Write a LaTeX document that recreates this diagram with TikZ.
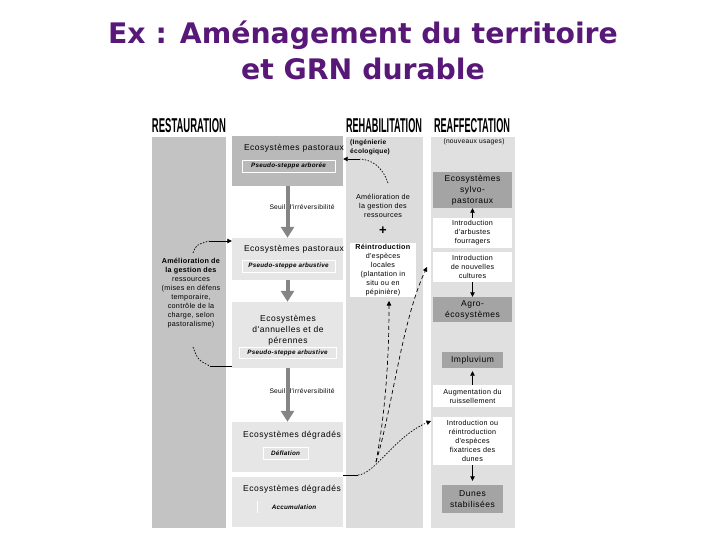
\documentclass[tikz,border=0pt]{standalone}
\usepackage{fontspec}
\setmainfont{Liberation Sans}
\newfontfamily\titlefont{DejaVu Sans}
\newfontfamily\spfont[LetterSpace=6]{Liberation Sans}
\newfontfamily\smfont[LetterSpace=4]{Liberation Sans}
\usetikzlibrary{arrows.meta}
\definecolor{ttlcol}{RGB}{88,24,120}
\definecolor{colrest}{RGB}{195,195,195}
\definecolor{colreh}{RGB}{220,220,220}
\definecolor{colrea}{RGB}{224,224,224}
\definecolor{boxdark}{RGB}{185,185,185}
\definecolor{boxlight}{RGB}{230,230,230}
\definecolor{boxgrey}{RGB}{164,164,164}
\definecolor{arrgrey}{RGB}{133,133,133}
\begin{document}
\begin{tikzpicture}[x=1pt,y=-1pt,
  colbox/.style={draw=none,inner sep=0,minimum width=#1},
  hdr/.style={inner sep=0,font=\bfseries},
  txt/.style={inner sep=0,align=center,font=\smfont\fontsize{7.2}{9}\selectfont},
  ttl/.style={inner sep=0,align=center,font=\spfont\fontsize{8.5}{11}\selectfont},
  inbox/.style={draw=white,line width=0.8pt,inner sep=0,font=\smfont\bfseries\itshape\fontsize{6.3}{8}\selectfont},
  ebox/.style={inner sep=0,draw=none},
  bigarrow/.style={draw=arrgrey,line width=4pt,-{Triangle[width=13pt,length=11pt]}},
  tip/.style={-{Triangle[width=4.5pt,length=4.5pt]},line width=0.8pt},
  dots/.style={line width=0.7pt,dash pattern=on 1.5pt off 1.5pt},
  dash2/.style={line width=0.7pt,dash pattern=on 4pt off 3pt}]
\useasboundingbox (0,0) rectangle (720,540);

% Title
\node[inner sep=0,align=center,text=ttlcol,font=\titlefont\bfseries\fontsize{28.3}{36}\selectfont] (title) at (363,50) {Ex : Aménagement du territoire\\et GRN durable};

% Columns
\node[colbox=74,minimum height=391,fill=colrest] (colR) at (189,332.5) {};
\node[colbox=77,minimum height=391,fill=colreh] (colH) at (384.5,332.5) {};
\node[colbox=84,minimum height=391,fill=colrea] (colF) at (473,332.5) {};

% Headers
\node[hdr] (hRest) at (189,125.5) {\resizebox{74pt}{14pt}{RESTAURATION}};
\node[hdr] (hReh) at (384,125.5) {\resizebox{76pt}{14pt}{REHABILITATION}};
\node[hdr] (hRea) at (472,125.5) {\resizebox{76pt}{14pt}{REAFFECTATION}};

% Middle stack
\node[ebox,fill=boxdark,minimum width=111,minimum height=50] (b1) at (287.5,161) {};
\node[ttl] (b1t) at (294,148) {Ecosystèmes pastoraux};
\node[inbox,minimum width=93,minimum height=12] (b1i) at (288.5,166) {Pseudo-steppe arborée};

\node[txt,font=\smfont\fontsize{6.7}{8}\selectfont] (s1) at (302,207) {Seuil d'irréversibilité};

\node[ebox,fill=boxlight,minimum width=111,minimum height=42] (b2) at (287.5,259) {};
\node[ttl] (b2t) at (294,249) {Ecosystèmes pastoraux};
\node[inbox,minimum width=93,minimum height=12] (b2i) at (288.5,266) {Pseudo-steppe arbustive};

\node[ebox,fill=boxlight,minimum width=111,minimum height=66] (b3) at (287.5,335) {};
\node[ttl] (b3t) at (288,330) {Ecosystèmes\\d'annuelles et de\\pérennes};
\node[inbox,minimum width=97,minimum height=11] (b3i) at (287.5,352.5) {Pseudo-steppe arbustive};

\node[txt,font=\smfont\fontsize{6.7}{8}\selectfont] (s2) at (302,391) {Seuil d'irréversibilité};

\node[ebox,fill=boxlight,minimum width=111,minimum height=50] (b4) at (287.5,447) {};
\node[ttl] (b4t) at (292,435) {Ecosystèmes dégradés};
\node[inbox,minimum width=45,minimum height=12] (b4i) at (285.5,453) {Déflation};

\node[ebox,fill=boxlight,minimum width=111,minimum height=50] (b5) at (287.5,502) {};
\node[ttl] (b5t) at (292,489) {Ecosystèmes dégradés};
\node[inner sep=0,font=\smfont\bfseries\itshape\fontsize{6.3}{8}\selectfont,minimum width=72,minimum height=12] (b5i) at (294,507) {Accumulation};
\draw[white,line width=0.8pt] (b5i.north west) -- (b5i.south west);

\draw[bigarrow] (b1.south) -- (b2.north);
\draw[bigarrow] (b2.south) -- (b3.north);
\draw[bigarrow] (b3.south) -- (b4.north);

% Left column text
\node[txt] (lt) at (191,293.5) {\textbf{Amélioration de}\\\textbf{la gestion des}\\ressources\\(mises en défens\\temporaire,\\contrôle de la\\charge, selon\\pastoralisme)};
\coordinate (l1) at (193,253);
\coordinate (l2) at (209,241);
\coordinate (l3) at (193,347);
\coordinate (l4) at (210,366);
\draw[dots] (l1) .. controls (196,245) .. (l2);
\draw[tip] (l2) -- (b2.west |- l2);
\draw[dots] (l3) .. controls (198,360) .. (l4);
\draw[line width=0.8pt] (l4) -- (b3.west |- l4);

% Rehabilitation column
\node[txt,align=left,anchor=west,font=\smfont\bfseries\fontsize{6.6}{9}\selectfont] (ie) at (350,147.5) {(Ingénierie\\écologique)};
\node[txt] (am) at (383,206) {Amélioration de\\la gestion des\\ressources};
\node[inner sep=0,font=\bfseries\fontsize{13}{13}\selectfont] (plus) at (383,231) {+};
\node[txt,fill=white,minimum width=66,minimum height=54] (rI) at (383,270) {\textbf{Réintroduction}\\d'espèces\\locales\\(plantation in\\situ ou en\\pépinière)};
\coordinate (d1) at (388,183);
\coordinate (d2) at (360,159);
\draw[dots] (d1) .. controls (382,166) and (372,160) .. (d2);
\draw[tip] (d2) -- (b1.east |- d2);

% Reaffectation column
\node[txt,font=\smfont\fontsize{6.7}{8}\selectfont] (nu) at (474,142) {(nouveaux usages)};
\node[ttl,fill=boxgrey,minimum width=79,minimum height=36] (sy) at (472.5,190) {Ecosystèmes\\sylvo-\\pastoraux};
\node[txt,fill=white,minimum width=79,minimum height=30] (ia) at (472.5,233) {Introduction\\d'arbustes\\fourragers};
\node[txt,fill=white,minimum width=79,minimum height=30] (nc) at (472.5,267) {Introduction\\de nouvelles\\cultures};
\node[ttl,fill=boxgrey,minimum width=79,minimum height=25] (ag) at (472.5,309.5) {Agro-\\écosystèmes};
\node[ttl,fill=boxgrey,minimum width=61,minimum height=16] (im) at (472.5,360) {Impluvium};
\node[txt,fill=white,minimum width=79,minimum height=22] (au) at (472.5,396) {Augmentation du\\ruissellement};
\node[txt,fill=white,minimum width=79,minimum height=48] (fx) at (472.5,441) {Introduction ou\\réintroduction\\d'espèces\\fixatrices des\\dunes};
\node[ttl,fill=boxgrey,minimum width=61,minimum height=28] (du) at (472.5,499) {Dunes\\stabilisées};

\draw[tip] (ia.north) -- (sy.south);
\draw[tip] (nc.south) -- (ag.north);
\draw[tip,shorten >=3pt] (au.north) -- (im.south);
\draw[tip,shorten >=4pt] (fx.south) -- (du.north);

% Connectors from degraded ecosystems
\coordinate (o1) at (343,475);
\coordinate (o2) at (358,475);
\coordinate (o3) at (376,462);
\coordinate (e1) at (431,421);
\coordinate (e2) at (389,301);
\coordinate (e3) at (427,267);
\draw[line width=0.8pt] (o1) -- (o2);
\draw[dots,-{Triangle[width=4.5pt,length=4.5pt]}] (o2) .. controls (375,474) and (395,436) .. (e1);
\draw[dash2,-{Triangle[width=4.5pt,length=4.5pt]}] (o3) .. controls (382,430) and (389,380) .. (e2);
\draw[dash2,-{Triangle[width=4.5pt,length=4.5pt]}] (o3) .. controls (392,410) and (402,320) .. (e3);
\end{tikzpicture}
\end{document}
